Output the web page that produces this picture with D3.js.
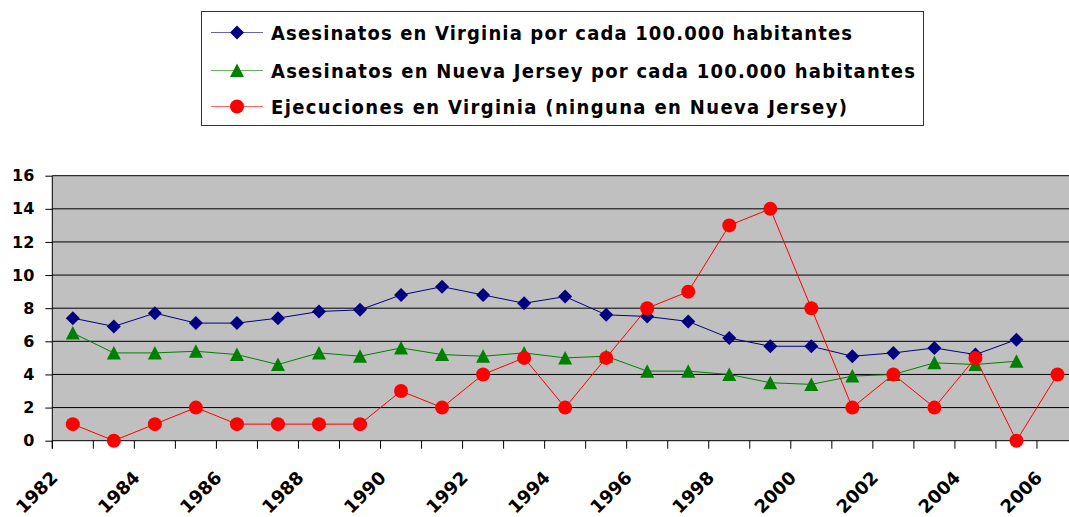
<!DOCTYPE html>
<html>
<head>
<meta charset="utf-8">
<script src="https://cdn.jsdelivr.net/npm/d3@7"></script>
<style>
  body { margin: 0; background: #fff; }
  svg { display: block; font-family: "DejaVu Sans", sans-serif; }
</style>
</head>
<body>
<div id="chart"></div>
<script>
// data
const years = d3.range(1982, 2007);
const virginia = [7.4, 6.9, 7.7, 7.1, 7.1, 7.4, 7.8, 7.9, 8.8, 9.3, 8.8, 8.3, 8.7, 7.6, 7.5, 7.2,
  6.2, 5.7, 5.7, 5.1, 5.3, 5.6, 5.2, 6.1, null];
const newJersey = [6.5, 5.3, 5.3, 5.4, 5.2, 4.6, 5.3, 5.1, 5.6, 5.2, 5.1, 5.3, 5.0, 5.1, 4.2, 4.2,
  4.0, 3.5, 3.4, 3.9, 4.0, 4.7, 4.6, 4.8, null];
const executions = [1, 0, 1, 2, 1, 1, 1, 1, 3, 2, 4, 5, 2, 5, 8, 9, 13, 14, 8, 2, 4, 2, 5, 0, 4];
const yTicks = [0, 2, 4, 6, 8, 10, 12, 14, 16];
const legendLabels = [
  'Asesinatos en Virginia por cada 100.000 habitantes',
  'Asesinatos en Nueva Jersey por cada 100.000 habitantes',
  'Ejecuciones en Virginia (ninguna en Nueva Jersey)'
];

const width = 1069, height = 517;
const svg = d3.select('#chart').append('svg')
  .attr('width', width)
  .attr('height', height);

const x = d3.scaleBand().domain(years).range([52.3, 1078]).padding(0);
const y = d3.scaleLinear().domain([0, 16]).range([440.7, 175.7]);
const cx = d => x(d) + x.bandwidth() / 2;

// plot background
svg.append('rect')
  .attr('x', x.range()[0]).attr('y', y(16))
  .attr('width', x.range()[1] - x.range()[0])
  .attr('height', y(0) - y(16))
  .attr('fill', '#c0c0c0');

// grid lines
svg.append('g').selectAll('line')
  .data(yTicks.filter(t => t > 0))
  .enter().append('line')
  .attr('x1', x.range()[0]).attr('x2', x.range()[1])
  .attr('y1', d => y(d)).attr('y2', d => y(d))
  .attr('stroke', '#000').attr('stroke-width', 1);

// y axis
const yAxis = svg.append('g')
  .attr('transform', `translate(${x.range()[0]},0)`)
  .call(d3.axisLeft(y).tickValues(yTicks).tickSize(7).tickPadding(11));
yAxis.select('.domain').attr('stroke', '#000').attr('d', `M0,${y(16)}V${y(0) + 8}`);
yAxis.selectAll('.tick line').attr('stroke', '#000');
yAxis.selectAll('text')
  .attr('fill', '#000')
  .style('font-size', '16px')
  .style('font-weight', 'bold')
  .style('font-family', '"DejaVu Sans", sans-serif');

// x axis: ticks at category boundaries
const bounds = years.map(d => x(d)).concat([x.range()[1]]);
const xg = svg.append('g');
xg.append('line')
  .attr('x1', x.range()[0]).attr('x2', x.range()[1])
  .attr('y1', y(0)).attr('y2', y(0))
  .attr('stroke', '#000');
xg.selectAll('.xt')
  .data(bounds)
  .enter().append('line')
  .attr('class', 'xt')
  .attr('x1', d => d).attr('x2', d => d)
  .attr('y1', y(0)).attr('y2', y(0) + 8)
  .attr('stroke', '#000');
xg.selectAll('text')
  .data(years.filter((d, i) => i % 2 === 0))
  .enter().append('text')
  .attr('transform', d => `translate(${cx(d) - 14},479) rotate(-45)`)
  .attr('text-anchor', 'end')
  .style('font-size', '18px')
  .style('font-weight', 'bold')
  .text(d => d);

// series
const series = [
  { values: virginia, color: '#000080', shape: 'diamond' },
  { values: newJersey, color: '#008000', shape: 'triangle' },
  { values: executions, color: '#ff0000', shape: 'circle' }
];

function marker(g, shape, color) {
  if (shape === 'diamond') {
    g.append('path').attr('d', 'M0,-7L7,0L0,7L-7,0Z').attr('fill', color);
  } else if (shape === 'triangle') {
    g.append('path').attr('d', 'M0,-7L7,6.5L-7,6.5Z').attr('fill', color);
  } else {
    g.append('circle').attr('r', 7).attr('fill', color);
  }
}

series.forEach(s => {
  const pts = years.map((d, i) => ({ year: d, v: s.values[i] })).filter(p => p.v != null);
  const line = d3.line().x(p => cx(p.year)).y(p => y(p.v));
  svg.append('path')
    .datum(pts)
    .attr('d', line)
    .attr('fill', 'none')
    .attr('stroke', s.color)
    .attr('stroke-width', 1);
  svg.append('g').selectAll('g')
    .data(pts)
    .enter().append('g')
    .attr('transform', p => `translate(${cx(p.year)},${y(p.v)})`)
    .each(function () { marker(d3.select(this), s.shape, s.color); });
});

// legend
const legend = svg.append('g');
legend.append('rect')
  .attr('x', 201.5).attr('y', 11.5)
  .attr('width', 722).attr('height', 114)
  .attr('fill', '#fff').attr('stroke', '#333');
const rowY = [32.5, 70.5, 106.5];
const textLen = [581, 644, 576];
series.forEach((s, i) => {
  const row = legend.append('g').attr('transform', `translate(0,${rowY[i]})`);
  row.append('line')
    .attr('x1', 211).attr('x2', 263)
    .attr('stroke', s.color).attr('stroke-opacity', 0.6);
  const m = row.append('g').attr('transform', 'translate(237,0)');
  marker(m, s.shape, s.color);
  row.append('text')
    .attr('x', 271).attr('y', 7)
    .attr('textLength', textLen[i])
    .attr('lengthAdjust', 'spacing')
    .style('font-family', '"DejaVu Sans Condensed", "DejaVu Sans", sans-serif')
    .style('font-stretch', 'condensed')
    .style('font-size', '20px')
    .style('font-weight', 'bold')
    .text(legendLabels[i]);
});
</script>
</body>
</html>
